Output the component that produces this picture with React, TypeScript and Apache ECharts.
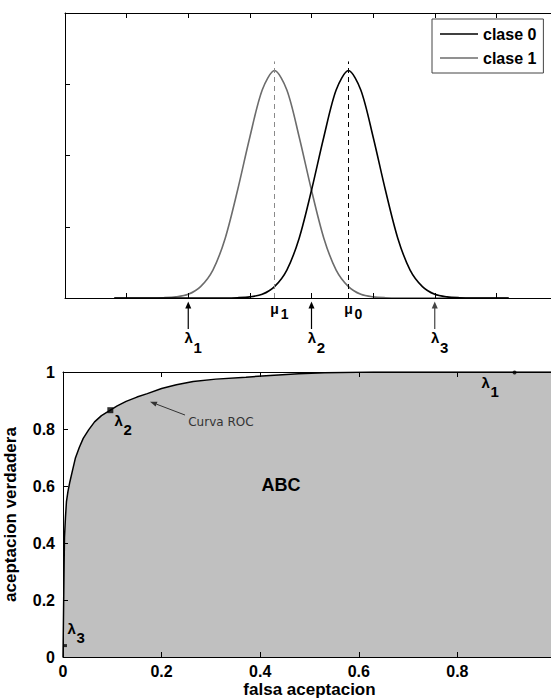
import React, { useEffect, useRef } from "react";
import * as echarts from "echarts";

// ---------- data ----------
const densityX = [-3.2, -3.0, -2.8, -2.6, -2.4, -2.2, -2.0, -1.8, -1.6, -1.4, -1.2, -1.0, -0.8, -0.6, -0.4, -0.2, 0, 0.2, 0.4, 0.6, 0.8, 1.0, 1.2, 1.4, 1.6, 1.8, 2.0, 2.2, 2.4, 2.6, 2.8, 3.0, 3.2];
const clase0Values = [0, 0, 0, 0, 0, 0, 0, 0, 0, 0, 0.001, 0.004, 0.013, 0.04, 0.098, 0.21, 0.378, 0.565, 0.73, 0.798, 0.73, 0.565, 0.378, 0.21, 0.098, 0.04, 0.013, 0.004, 0.001, 0, 0, 0, 0];
const clase1Values = [0, 0, 0, 0, 0.001, 0.004, 0.013, 0.04, 0.098, 0.21, 0.378, 0.565, 0.73, 0.798, 0.73, 0.565, 0.378, 0.21, 0.098, 0.04, 0.013, 0.004, 0.001, 0, 0, 0, 0, 0, 0, 0, 0, 0, 0];
const seriesNames = ["clase 0", "clase 1"];

const muMarks = [
  { sym: "μ", sub: "1", x: -0.6, series: 1 },
  { sym: "μ", sub: "0", x: 0.6, series: 0 },
];
const muLineTop = 0.83;
const lambdaThresholds = [
  { sub: "1", x: -2 },
  { sub: "2", x: 0 },
  { sub: "3", x: 2 },
];

const rocFalse = [0, 0.002, 0.003, 0.005, 0.007, 0.01, 0.014, 0.02, 0.025, 0.033, 0.041, 0.052, 0.064, 0.078, 0.096, 0.11, 0.128, 0.15, 0.171, 0.2, 0.23, 0.264, 0.31, 0.371, 0.42, 0.478, 0.53, 0.63, 1];
const rocTrue = [0, 0.29, 0.42, 0.49, 0.545, 0.58, 0.615, 0.66, 0.697, 0.735, 0.767, 0.797, 0.825, 0.847, 0.866, 0.881, 0.897, 0.912, 0.924, 0.942, 0.955, 0.967, 0.975, 0.982, 0.988, 0.994, 0.997, 1, 1];

const rocLambdaPoints = [
  { sub: "1", x: 0.916, y: 0.998 },
  { sub: "2", x: 0.096, y: 0.866 },
  { sub: "3", x: 0.005, y: 0.04 },
];
const areaLabel = { text: "ABC", x: 0.442, y: 0.603 };
const curveNote = { text: "Curva ROC", x: 0.254, y: 0.826, fromX: 0.2475, fromY: 0.849, toX: 0.1765, toY: 0.8958 };

const xAxisName = "falsa aceptacion";
const yAxisName = "aceptacion verdadera";

// ---------- styles ----------
const FONT = '"Liberation Sans", Arial, Helvetica, sans-serif';
const rocPointStyle = [
  { symbol: "circle", size: 4, dx: -29, dy: 9.5 },
  { symbol: "rect", size: 6, dx: 8.3, dy: 10.3 },
  { symbol: "rect", size: 3, dx: 6.3, dy: -16.7 },
];
const lambdaArrowColors = ["#000", "#000", "#444"];

export default function App() {
  const ref = useRef<HTMLDivElement>(null);

  useEffect(() => {
    if (!ref.current) return;
    const chart = echarts.init(ref.current, null, { renderer: "svg" });

    const pair = (xs: number[], ys: number[]) => xs.map((x, i) => [x, ys[i]]);
    const tickCommon = {
      axisTick: { show: true, inside: true, length: 5, lineStyle: { color: "#000", width: 1 } },
      axisLine: { show: true, onZero: false, lineStyle: { color: "#000", width: 1 } },
      splitLine: { show: false },
      z: 5,
    };
    const noLabel = { axisLabel: { show: false } };
    const tickLabel = {
      axisLabel: { show: true, fontSize: 16, fontWeight: "bold", color: "#000", fontFamily: FONT },
    };
    const nameStyle = { fontSize: 17, fontWeight: "bold", color: "#000", fontFamily: FONT };

    const option: any = {
      animation: false,
      backgroundColor: "#fff",
      textStyle: { fontFamily: FONT },
      grid: [
        { left: 65, top: 13, width: 493, height: 285, outerBoundsMode: "none" },
        { left: 63, top: 372, width: 493, height: 285, outerBoundsMode: "none" },
      ],
      legend: {
        data: seriesNames,
        orient: "vertical",
        left: 432,
        top: 19,
        icon: "rect",
        itemWidth: 38,
        itemHeight: 1.6,
        itemGap: 8,
        padding: [7, 7, 7, 8],
        borderColor: "#444",
        borderWidth: 1,
        backgroundColor: "#fff",
        textStyle: { fontSize: 16, fontWeight: "bold", color: "#000", fontFamily: FONT },
        selectedMode: false,
      },
      xAxis: [
        { gridIndex: 0, type: "value", min: -4, max: 4, interval: 1, position: "bottom", ...tickCommon, ...noLabel },
        { gridIndex: 0, type: "value", min: -4, max: 4, interval: 1, position: "top", ...tickCommon, ...noLabel },
        {
          gridIndex: 1, type: "value", min: 0, max: 1, interval: 0.2, position: "bottom", ...tickCommon,
          axisLabel: { ...tickLabel.axisLabel, margin: 6, showMaxLabel: false },
          name: xAxisName, nameLocation: "middle", nameGap: 24, nameTextStyle: nameStyle,
        },
        { gridIndex: 1, type: "value", min: 0, max: 1, interval: 0.2, position: "top", ...tickCommon, ...noLabel },
      ],
      yAxis: [
        { gridIndex: 0, type: "value", min: 0, max: 1, interval: 0.25, position: "left", ...tickCommon, ...noLabel },
        {
          gridIndex: 1, type: "value", min: 0, max: 1, interval: 0.2, position: "left", ...tickCommon,
          axisLabel: { ...tickLabel.axisLabel, margin: 8 },
          name: yAxisName, nameLocation: "middle", nameRotate: 90, nameGap: 44, nameTextStyle: nameStyle,
        },
      ],
      series: [
        {
          name: seriesNames[0], type: "line", xAxisIndex: 0, yAxisIndex: 0,
          data: pair(densityX, clase0Values), smooth: 0.3, symbol: "none",
          lineStyle: { color: "#000", width: 1.6 }, itemStyle: { color: "#000" }, z: 3,
          markLine: {
            silent: true, symbol: ["none", "none"], label: { show: false },
            lineStyle: { color: "#000", type: [5, 4], width: 1 },
            data: muMarks.filter((m) => m.series === 0).map((m) => [{ coord: [m.x, 0] }, { coord: [m.x, muLineTop] }]),
          },
        },
        {
          name: seriesNames[1], type: "line", xAxisIndex: 0, yAxisIndex: 0,
          data: pair(densityX, clase1Values), smooth: 0.3, symbol: "none",
          lineStyle: { color: "#6c6c6c", width: 1.6 }, itemStyle: { color: "#6c6c6c" }, z: 2,
          markLine: {
            silent: true, symbol: ["none", "none"], label: { show: false },
            lineStyle: { color: "#8a8a8a", type: [5, 4], width: 1 },
            data: muMarks.filter((m) => m.series === 1).map((m) => [{ coord: [m.x, 0] }, { coord: [m.x, muLineTop] }]),
          },
        },
        {
          name: "ROC", type: "line", xAxisIndex: 2, yAxisIndex: 1,
          data: pair(rocFalse, rocTrue), symbol: "none",
          lineStyle: { color: "#000", width: 1.5 },
          areaStyle: { color: "#c0c0c0", opacity: 1 }, z: 2,
        },
        {
          name: "lambda", type: "scatter", xAxisIndex: 2, yAxisIndex: 1,
          data: rocLambdaPoints.map((p, i) => ({
            value: [p.x, p.y],
            symbol: rocPointStyle[i].symbol,
            symbolSize: rocPointStyle[i].size,
          })),
          itemStyle: { color: "#000" }, z: 4,
        },
      ],
    };

    chart.setOption(option);

    const p0 = (x: number, y: number) => chart.convertToPixel({ xAxisIndex: 0, yAxisIndex: 0 }, [x, y]) as number[];
    const p1 = (x: number, y: number) => chart.convertToPixel({ xAxisIndex: 2, yAxisIndex: 1 }, [x, y]) as number[];

    const txt = (text: string, x: number, y: number, size: number, extra: any = {}) => ({
      type: "text", x, y, z: 100, silent: true,
      style: {
        text, fontSize: size, fontWeight: "bold", fontFamily: FONT, fill: "#000",
        align: "center", verticalAlign: "middle", ...extra,
      },
    });

    const g: any[] = [];
    muMarks.forEach((m) => {
      const [px, py] = p0(m.x, 0);
      g.push(txt(m.sym, px, py + 10.5, 14));
      g.push(txt(m.sub, px + 10, py + 15.5, 14));
    });
    lambdaThresholds.forEach((l, i) => {
      const [px, py] = p0(l.x, 0);
      const c = lambdaArrowColors[i];
      g.push({ type: "line", z: 100, silent: true, shape: { x1: px, y1: py + 9, x2: px, y2: py + 31 }, style: { stroke: c, lineWidth: 1.2 } });
      g.push({ type: "polygon", z: 100, silent: true, shape: { points: [[px, py + 3.5], [px - 3, py + 10.5], [px + 3, py + 10.5]] }, style: { fill: c } });
      g.push(txt("λ", px + 0.5, py + 39, 15));
      g.push(txt(l.sub, px + 9.5, py + 49.5, 15));
    });
    rocLambdaPoints.forEach((p, i) => {
      const [px, py] = p1(p.x, p.y);
      const s = rocPointStyle[i];
      g.push(txt("λ", px + s.dx, py + s.dy, 15));
      g.push(txt(p.sub, px + s.dx + 9, py + s.dy + 9, 15));
    });
    {
      const [px, py] = p1(areaLabel.x, areaLabel.y);
      g.push(txt(areaLabel.text, px, py, 18));
    }
    {
      const [tx, ty] = p1(curveNote.x, curveNote.y);
      g.push(txt(curveNote.text, tx, ty, 12, { fontWeight: "normal", fontFamily: '"DejaVu Sans", sans-serif', fill: "#333", align: "left" }));
      const [ax, ay] = p1(curveNote.fromX, curveNote.fromY);
      const [bx, by] = p1(curveNote.toX, curveNote.toY);
      const dx = bx - ax, dy = by - ay;
      const len = Math.hypot(dx, dy);
      const ux = dx / len, uy = dy / len;
      const hl = 7, hw = 2.6;
      const baseX = bx - ux * hl, baseY = by - uy * hl;
      g.push({ type: "line", z: 100, silent: true, shape: { x1: ax, y1: ay, x2: baseX, y2: baseY }, style: { stroke: "#333", lineWidth: 1 } });
      g.push({
        type: "polygon", z: 100, silent: true,
        shape: { points: [[bx, by], [baseX - uy * hw, baseY + ux * hw], [baseX + uy * hw, baseY - ux * hw]] },
        style: { fill: "#333" },
      });
    }

    chart.setOption({ graphic: g });

    return () => chart.dispose();
  }, []);

  return (
    <div style={{ position: "fixed", left: 0, top: 0, width: 551, height: 698, overflow: "hidden", background: "#fff" }}>
      <div ref={ref} style={{ width: 570, height: 698 }} />
    </div>
  );
}
